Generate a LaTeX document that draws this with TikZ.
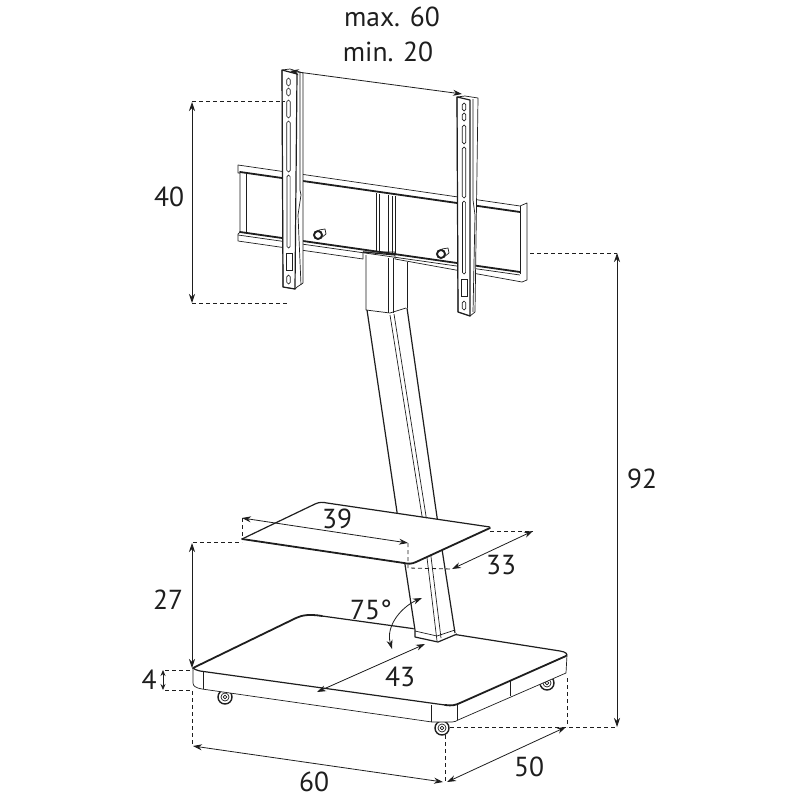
\documentclass[tikz,border=0pt]{standalone}
\usepackage{fontspec}
\setmainfont{PT Sans}
\usetikzlibrary{arrows.meta}
\definecolor{ink}{HTML}{1E1E1E}
\tikzset{
 thin line/.style={draw=ink,line width=0.7pt,line join=round},
 mid line/.style={draw=ink,line width=1.2pt,line join=round},
 thick line/.style={draw=ink,line width=1.8pt,line join=round,line cap=round},
 dimarrow/.style={draw=ink,line width=0.8pt,{Stealth[length=9pt,width=6pt]}-{Stealth[length=9pt,width=6pt]}},
 dimdash/.style={draw=ink,line width=0.8pt,dash pattern=on 4pt off 3pt},
 dimtext/.style={text=ink,font=\fontsize{27.5}{27.5}\selectfont,inner sep=0pt},
 slot/.style={draw=ink,line width=0.7pt,fill=white},
}
\newcommand{\slotbar}[4]{\draw[slot,rounded corners=#3 pt] (#1-#3,#2) rectangle (#1+#3,#4);}
\begin{document}
\begin{tikzpicture}[x=1pt,y=-1pt]
\useasboundingbox (0,0) rectangle (800,800);
\fill[white] (0,0) rectangle (800,800);

% wheels
\coordinate (w1) at (225,697); \coordinate (w2) at (442,728); \coordinate (w3) at (547,683);
\foreach \w in {w1,w2,w3}{
 \filldraw[fill=white,draw=ink,line width=1.4pt] (\w) circle[radius=7];
 \draw[thin line] (\w) circle[radius=4];
 \draw[thin line] (\w) circle[radius=1.8];
}
% base
\filldraw[fill=white,thin line] (193,668) -- (193,683) .. controls (193,686) and (196,688) .. (202,689) -- (432,722) -- (452,722) .. controls (455,722) and (456,721) .. (458,720) -- (566,673) -- (567,655) -- (455,700) -- cycle;
\filldraw[fill=white,draw=none] (193,668) .. controls (230,648) and (270,628) .. (300,617) .. controls (305,615) and (312,614) .. (322,616) -- (560,651) .. controls (566,652) and (568,654) .. (566,656) -- (460,703) .. controls (456,705) and (452,706) .. (445,705) -- (200,671) .. controls (196,670) and (194,669) .. cycle;
\draw[thick line] (193,668) -- (296,618) .. controls (302,615) and (310,614) .. (322,616);
\draw[mid line] (322,616) -- (416,629);
\draw[mid line] (452,634) -- (560,651) .. controls (566,652) and (568,654) .. (566,656);
\draw[thick line] (566,656) -- (460,703) .. controls (456,705) and (452,706) .. (445,705);
\draw[mid line] (445,705) -- (200,671) .. controls (196,670) and (194,669) .. (193,668);
\draw[thin line] (203,672) -- (203,689);
\draw[thin line] (431,705) -- (431,722);
\draw[thin line] (457,704) -- (457,720);
\draw[thin line] (510,680) -- (510,696);

% pole, lower part
\filldraw[fill=white,draw=none] (397,512) -- (437,517) -- (457,634) -- (438,642) -- (415,637) -- cycle;
\draw[mid line] (397,512) -- (415,630) -- (415,637) -- (438,642) -- (457,634);
\draw[mid line] (437,517) -- (455,633);
\draw[thin line] (422,516) -- (437,641);
\draw[thin line] (426,516) -- (441,638);
\draw[thin line] (415,631) -- (437,636) -- (455,630);

% pole, upper part
\filldraw[fill=white,draw=none] (366,255) -- (407,262) -- (407,308) -- (437,517) -- (397,512) -- (367,310) -- cycle;
\draw[mid line] (367,310) -- (397,512);
\draw[mid line] (407,308) -- (437,517);
\draw[thin line] (390,315) -- (422,516);
\draw[thin line] (394,314) -- (426,516);
\draw[thin line] (366,255) -- (366,310) -- (390,313) -- (406,308);
\draw[thin line] (388,258) -- (388,313);
\draw[thin line] (393,258) -- (393,313);
\draw[thin line] (407,262) -- (407,308);

% shelf
\filldraw[fill=white,draw=none] (242,539) -- (315,504) .. controls (319,502) and (323,502) .. (327,503) -- (490,528) -- (416,562) .. controls (412,564) and (408,564) .. (404,563) -- cycle;
\draw[mid line] (242,539) -- (315,504) .. controls (319,502) and (323,502) .. (327,503) -- (490,527);
\draw[thick line] (242,539) -- (404,563) .. controls (408,564) and (412,564) .. (416,562) -- (490,528);

% wall rail
\filldraw[fill=white,thin line] (238,165) -- (238,173) -- (240,173) -- (240,232) -- (238,234) -- (238,241) -- (363,259) -- (363,252) -- (395,252) -- (395,259) -- (522,282) -- (527,280) -- (527,203) -- (520,206) -- cycle;
\draw[thick line] (240,172) -- (520,212);
\draw[thick line] (240,232) -- (520,272);
\draw[thin line] (238,235) -- (520,275);
\draw[thin line] (246,173) -- (246,233);
\draw[thin line] (520,206) -- (520,274);
\draw[thin line] (376,193) -- (376,252);
\draw[thin line] (379,194) -- (379,252);
\draw[thin line] (388,195) -- (388,254);
\draw[thin line] (392,196) -- (392,254);
\draw[thin line] (395,196) -- (395,254);
\draw[mid line] (363,252) -- (395,255);

% studs
\coordinate (s1) at (318,235); \coordinate (s2) at (441,254);
\foreach \s in {s1,s2}{
 \filldraw[fill=white,thin line] ([shift={(1,-5)}]\s) -- ([shift={(7,-6)}]\s) -- ([shift={(8,-1)}]\s) -- ([shift={(3,3)}]\s) -- cycle;
 \filldraw[fill=white,draw=ink,line width=1.9pt] (\s) circle[radius=4];
}

% left bracket
\filldraw[fill=white,thin line] (282,70) -- (290,69) -- (303,73) -- (303,283) -- (297,287) -- (295,289) -- (283,287) -- cycle;
\draw[mid line] (282,70) -- (283,287) -- (295,289) -- (297,74) -- cycle;
\draw[thin line] (300,72) -- (300,190) -- (301,195) -- (298,215) -- (301,285);
\slotbar{288.5}{78}{1.8}{86}
\slotbar{288.5}{88}{1.8}{96}
\slotbar{288.5}{100}{1.8}{118}
\slotbar{288.5}{121}{1.8}{172}
\slotbar{288.5}{175}{1.6}{248}
\draw[slot] (286,253) rectangle (292,270);
\slotbar{288.5}{275}{1.8}{284}

% right bracket
\filldraw[fill=white,thin line] (457,97) -- (465,96) -- (478,98) -- (475,312) -- (470,316) -- (458,312) -- cycle;
\draw[mid line] (457,97) -- (458,312) -- (470,316) -- (470,100) -- cycle;
\draw[thin line] (473,99) -- (473,200) -- (475,215) -- (473,312);
\slotbar{464}{103}{1.8}{111}
\slotbar{464}{113}{1.8}{121}
\slotbar{464}{125}{1.8}{144}
\slotbar{464}{147}{1.8}{198}
\slotbar{464}{201}{1.6}{274}
\draw[slot] (461,279) rectangle (467,296);
\slotbar{464}{301}{1.8}{310}

% dimension extension lines
\draw[dimdash] (192,101) -- (285,101);
\draw[dimdash] (192,303) -- (287,303);
\draw[dimdash] (530,253) -- (617,253);
\draw[dimdash] (450,727) -- (617,727);
\draw[dimdash] (242,518) -- (242,539);
\draw[dimdash] (408,543) -- (408,568) -- (452,569);
\draw[dimdash] (193,542) -- (242,542);
\draw[dimdash] (490,531) -- (533,531);
\draw[dimdash] (165,670) -- (193,670);
\draw[dimdash] (165,690) -- (192,690) -- (192,746);
\draw[dimdash] (445,735) -- (445,782);
\draw[dimdash] (567,678) -- (567,727);

% dimension arrows
\draw[dimarrow] (290,71) -- (462,94);
\draw[dimarrow] (192,102) -- (192,303);
\draw[dimarrow] (617,253) -- (617,727);
\draw[dimarrow] (242,518) -- (408,543);
\draw[dimarrow] (452,569) -- (533,531);
\draw[dimarrow] (192,543) -- (192,668);
\draw[dimarrow] (422,598) .. controls (403,606) and (385,625) .. (392,649);
\draw[dimarrow] (425,644) -- (317,692);
\draw[draw=ink,line width=0.8pt,{Stealth[length=6pt,width=5pt]}-{Stealth[length=6pt,width=5pt]}] (163,670) -- (163,690);
\draw[dimarrow] (193,746) -- (443,782);
\draw[dimarrow] (447,782) -- (566,727);

% labels
\node[dimtext] (tmax) at (392,17) {max. 60};
\node[dimtext] (tmin) at (388,52) {min. 20};
\node[dimtext] (t40) at (169,197) {40};
\node[dimtext] (t92) at (642,479) {92};
\node[dimtext] (t39) at (337,519) {39};
\node[dimtext] (t33) at (501,565) {33};
\node[dimtext] (t27) at (168,600) {27};
\node[dimtext] (t75) at (371,610) {75°};
\node[dimtext] (t43) at (400,677) {43};
\node[dimtext] (t4) at (149,680) {4};
\node[dimtext] (t60) at (314,782) {60};
\node[dimtext] (t50) at (529,767) {50};
\end{tikzpicture}
\end{document}
